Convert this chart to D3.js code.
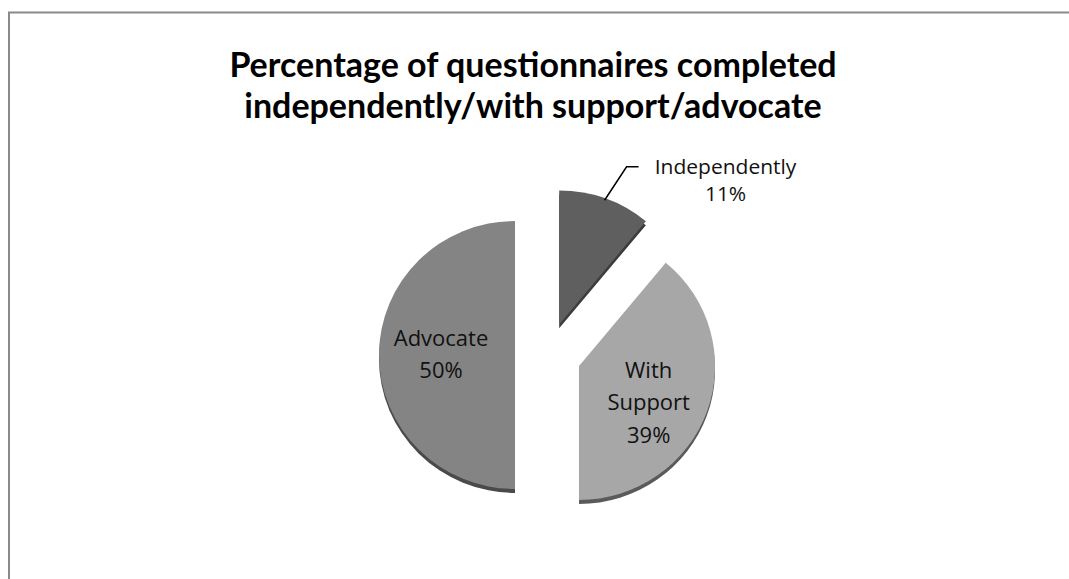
<!DOCTYPE html>
<html>
<head>
<meta charset="utf-8">
<script src="https://cdn.jsdelivr.net/npm/d3@7"></script>
<style>
  body { margin: 0; background: #fff; }
  svg { display: block; }
</style>
</head>
<body>
<div id="chart"></div>
<script>
const categories = ["Independently", "With Support", "Advocate"];
const values = [11, 39, 50];
const labelLines = [["Independently", "11%"], ["With", "Support", "39%"], ["Advocate", "50%"]];
const titleLines = ["Percentage of questionnaires completed", "independently/with support/advocate"];
const colors = ["#5f5f5f", "#a7a7a7", "#848484"];
const edgeColors = ["#3c3c3c", "#5a5a5a", "#4a4a4a"];

const width = 1069, height = 579;
const cx = 548, cy = 355, radius = 136, explode = 33;

const svg = d3.select("#chart").append("svg")
    .attr("width", width)
    .attr("height", height);

// chart frame (cropped on the right/bottom like the source)
svg.append("path")
    .attr("d", `M9,${height + 5} L9,12.5 L${width + 5},12.5`)
    .style("fill", "none")
    .style("stroke", "#8a8a8a")
    .style("stroke-width", 2);

svg.append("text")
    .attr("text-anchor", "middle")
    .style("font-family", "Lato, 'Open Sans', sans-serif")
    .style("font-weight", "bold")
    .style("font-size", "34px")
    .style("fill", "#000")
    .selectAll("tspan")
    .data(titleLines)
    .enter().append("tspan")
        .attr("x", 533)
        .attr("y", (d, i) => 77 + i * 41)
        .text(d => d);

const pie = d3.pie().sort(null).value(d => d.value);
const arcs = pie(categories.map((c, i) => ({ name: c, value: values[i], idx: i })));

const arc = d3.arc().innerRadius(0).outerRadius(radius);
const edgeArc = d3.arc().innerRadius(radius - 2).outerRadius(radius - 2);
const innerLabel = d3.arc().innerRadius(74).outerRadius(74);

function offset(d) {
    const a = (d.startAngle + d.endAngle) / 2;
    return [Math.sin(a) * explode, -Math.cos(a) * explode];
}

const g = svg.append("g")
    .attr("transform", `translate(${cx},${cy}) scale(1,0.985)`);

const slices = g.selectAll(".slice")
    .data(arcs)
    .enter().append("g")
        .attr("class", "slice")
        .attr("transform", d => { const o = offset(d); return `translate(${o[0]},${o[1]})`; });

// side edge for a bit of depth
slices.append("path")
    .attr("d", arc)
    .attr("transform", "translate(0,4)")
    .style("fill", d => edgeColors[d.data.idx]);

slices.append("path")
    .attr("d", arc)
    .style("fill", d => colors[d.data.idx]);

slices.filter(d => d.data.idx !== 0).append("text")
    .attr("text-anchor", "middle")
    .style("font-family", "'Open Sans', sans-serif")
    .style("font-size", "22px")
    .style("fill", "#111")
    .each(function(d) {
        const c = innerLabel.centroid(d);
        const lines = labelLines[d.data.idx];
        const lh = 33;
        const shift = d.data.idx === 1 ? 20 : 7;
        const y0 = c[1] - (lines.length - 1) * lh / 2 + shift;
        d3.select(this).selectAll("tspan")
            .data(lines)
            .enter().append("tspan")
                .attr("x", c[0])
                .attr("y", (t, i) => y0 + i * lh)
                .text(t => t);
    });

// outside label for the small slice with a leader line
const small = slices.filter(d => d.data.idx === 0);
small.append("path")
    .attr("d", d => {
        const s = edgeArc.centroid(d);
        return `M${s[0]},${s[1]} L${s[0] + 22},${s[1] - 34} L${s[0] + 34},${s[1] - 34}`;
    })
    .style("fill", "none")
    .style("stroke", "#000")
    .style("stroke-width", 1.5);

small.append("text")
    .attr("text-anchor", "middle")
    .style("font-family", "'Open Sans', sans-serif")
    .style("font-size", "21px")
    .style("fill", "#111")
    .each(function(d) {
        const s = edgeArc.centroid(d);
        d3.select(this).selectAll("tspan")
            .data(labelLines[0])
            .enter().append("tspan")
                .attr("x", s[0] + 121)
                .attr("y", (t, i) => s[1] - 27 + i * 28)
                .text(t => t);
    });
</script>
</body>
</html>
